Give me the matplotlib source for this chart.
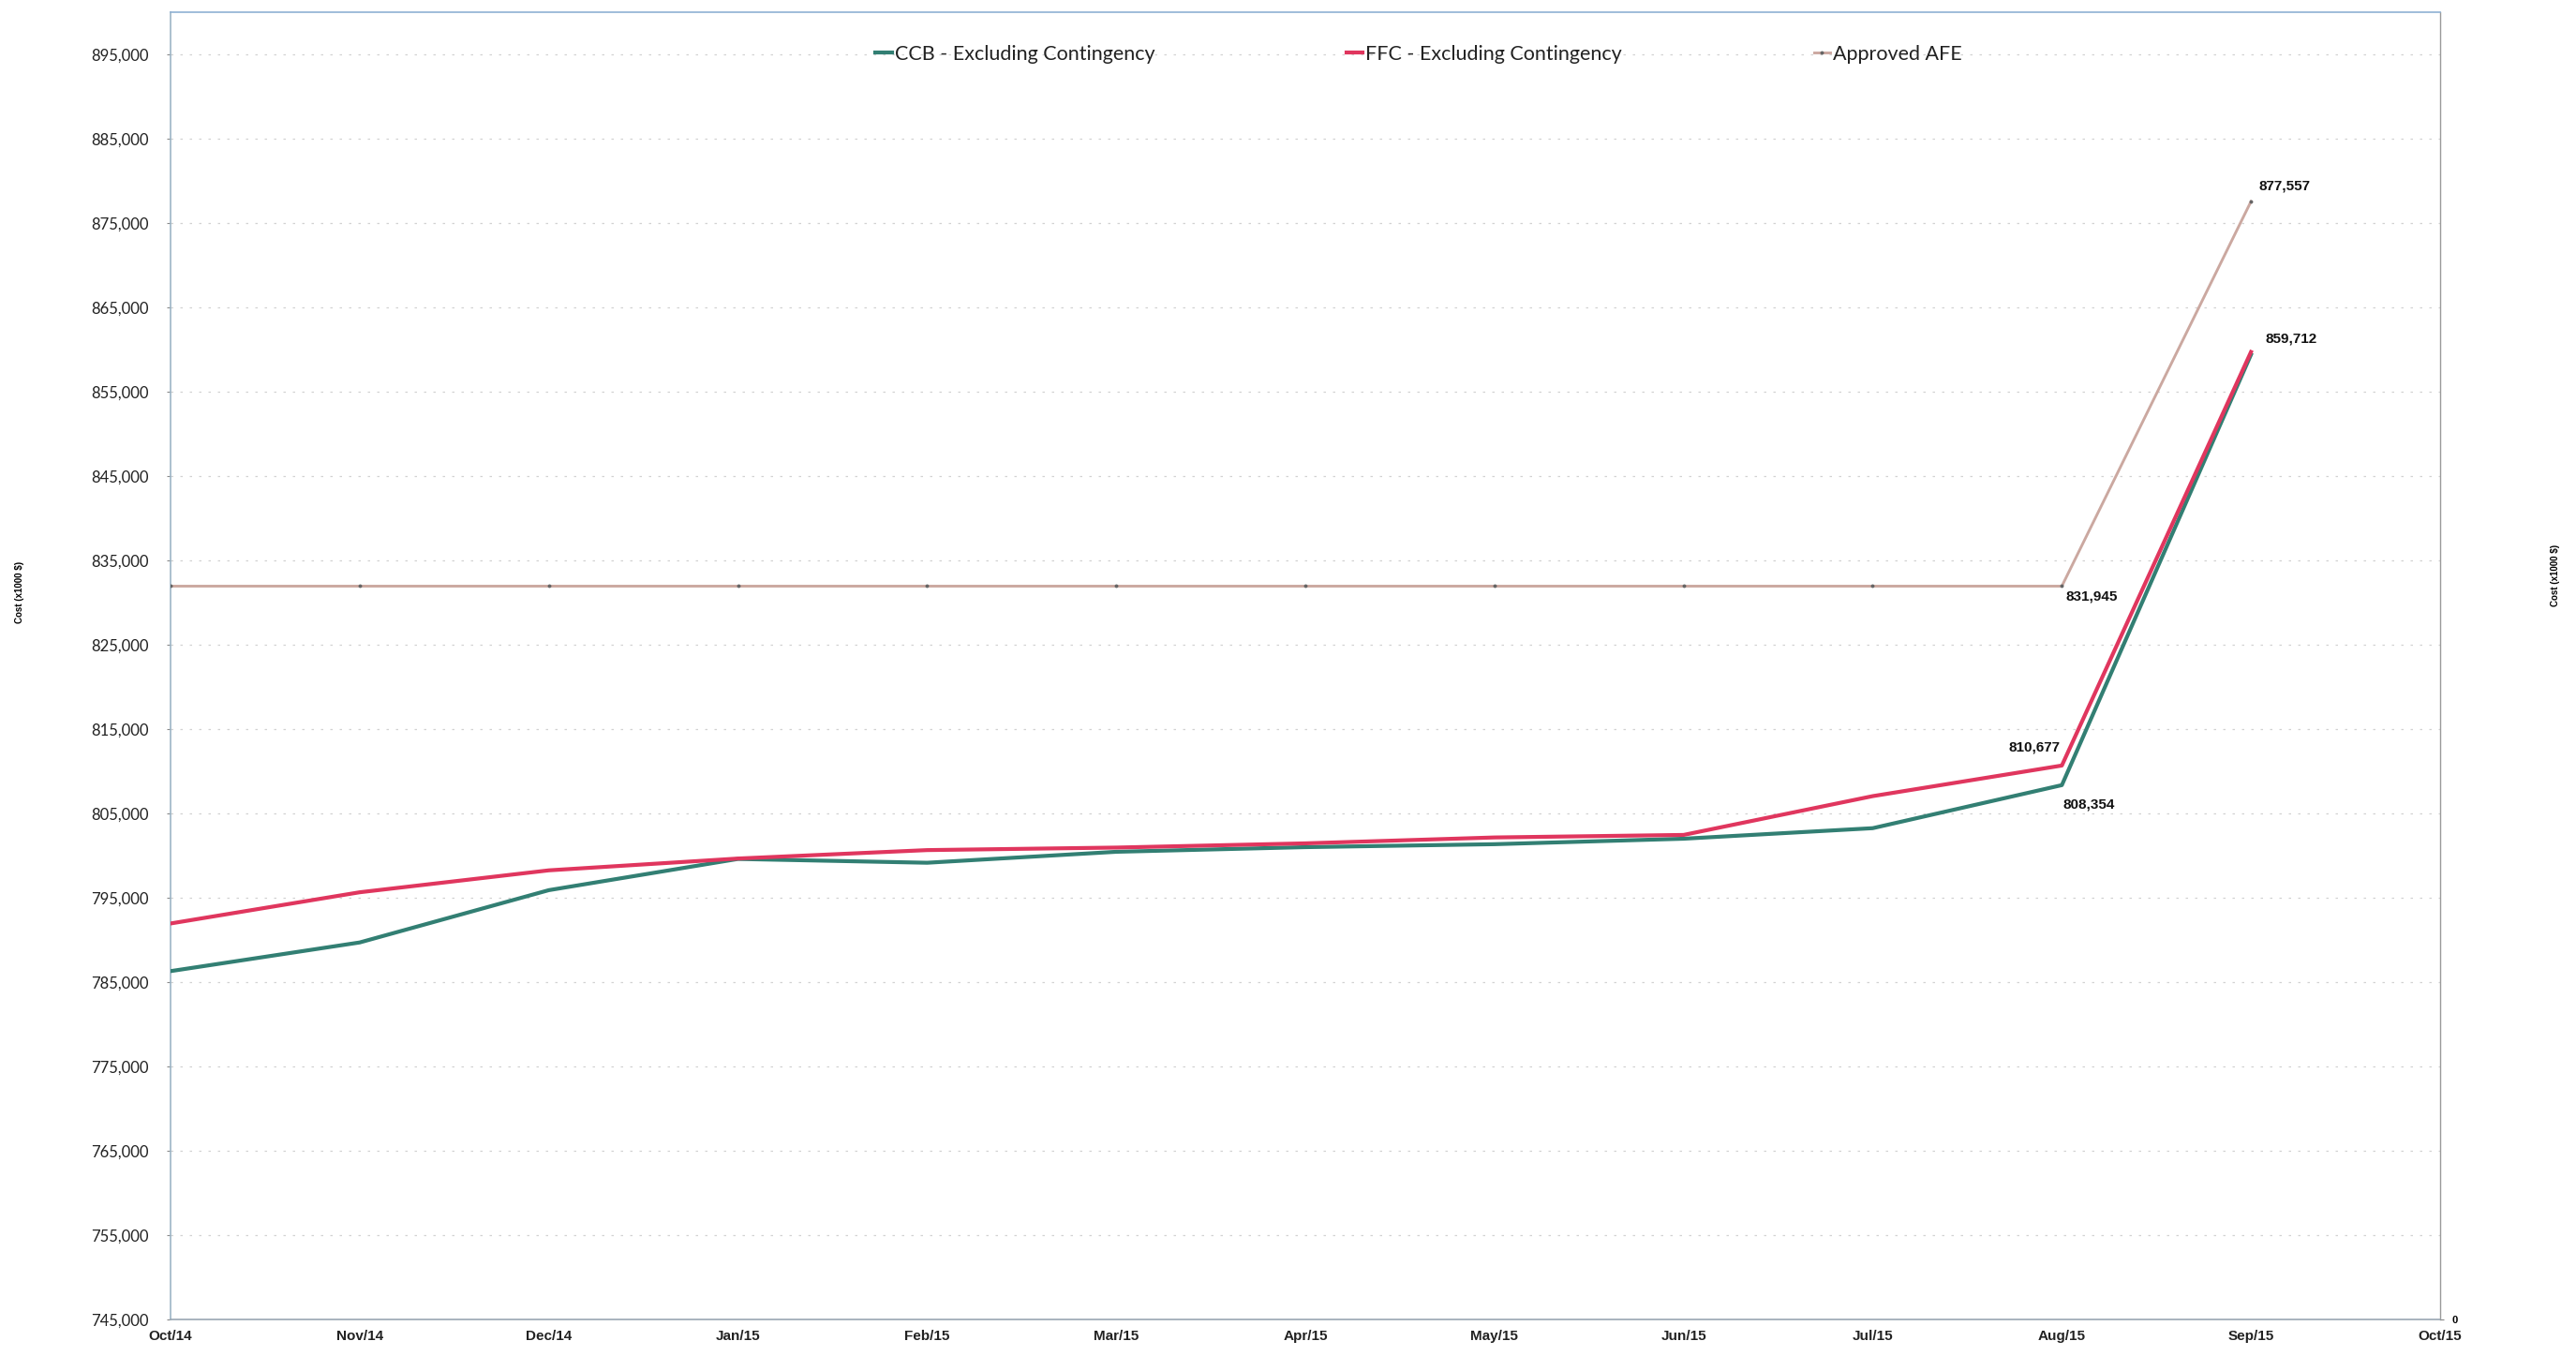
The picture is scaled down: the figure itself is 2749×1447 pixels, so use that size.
import matplotlib
matplotlib.use("Agg")
import matplotlib.pyplot as plt
from matplotlib.ticker import FixedLocator, FuncFormatter

# Monthly cost tracking (x1000 $)
months = ["Oct/14", "Nov/14", "Dec/14", "Jan/15", "Feb/15", "Mar/15", "Apr/15",
          "May/15", "Jun/15", "Jul/15", "Aug/15", "Sep/15", "Oct/15"]

ccb = [786300, 789700, 795900, 799600, 799150, 800450, 801000,
       801350, 802000, 803250, 808354, 859400]
ffc = [791950, 795650, 798250, 799650, 800650, 800950, 801450,
       802150, 802450, 807050, 810677, 859712]
afe = [831945, 831945, 831945, 831945, 831945, 831945, 831945,
       831945, 831945, 831945, 831945, 877557]

series_names = ["CCB - Excluding Contingency", "FFC - Excluding Contingency", "Approved AFE"]
y_ticks = list(range(745000, 900000, 10000))

TEAL = "#327f73"
RED = "#e0365e"
AFE_C = "#cba8a0"

W, H, DPI = 2749, 1447, 100
fig = plt.figure(figsize=(W / DPI, H / DPI), dpi=DPI)
fig.patch.set_facecolor("white")
ax = fig.add_axes([182 / W, 1 - 1408 / H, (2604 - 182) / W, (1408 - 13) / H])

x = list(range(len(ccb)))

ax.plot(x, afe, color=AFE_C, lw=2.1, label=series_names[2], zorder=3,
        marker="o", markersize=1.8, markerfacecolor="#666666", markeredgecolor="#666666")
ax.plot(x, ccb, color=TEAL, lw=3.0, label=series_names[0], zorder=4,
        solid_joinstyle="round")
ax.plot(x, ffc, color=RED, lw=3.0, label=series_names[1], zorder=5,
        solid_joinstyle="round")

ax.set_xlim(0, 12)
ax.set_ylim(745000, 900000)

ax.yaxis.set_major_locator(FixedLocator(y_ticks))
ax.yaxis.set_major_formatter(FuncFormatter(lambda v, p: f"{int(v):,}"))
ax.set_xticks(range(len(months)))
ax.set_xticklabels(months)

tick_font = ["Lato", "DejaVu Sans"]
for lab in ax.get_yticklabels():
    lab.set_family(tick_font)
    lab.set_fontsize(12)
    lab.set_color("#222222")
for lab in ax.get_xticklabels():
    lab.set_family(["Liberation Sans Narrow", "Liberation Sans", "DejaVu Sans"])
    lab.set_fontsize(11)
    lab.set_fontweight("bold")
    lab.set_color("#222222")

ax.tick_params(axis="y", length=3, width=0.8, color="#888888", pad=14)
ax.tick_params(axis="x", length=0, pad=8)

# faint gridlines
for v in y_ticks:
    ax.axhline(v, color="#d2d2d2", lw=0.9, ls=(0, (2, 6)), zorder=1)

for side, col, lw in [("left", "#9db5c6", 1.2), ("top", "#8fb1d3", 1.2),
                      ("right", "#9a9a9a", 1.0), ("bottom", "#9aa7b3", 1.2)]:
    ax.spines[side].set_color(col)
    ax.spines[side].set_linewidth(lw)

# secondary axis on the right
ax2 = ax.twinx()
ax2.set_ylim(0, 1)
ax2.set_yticks([0])
ax2.set_yticklabels(["0"], fontsize=8, fontweight="bold",
                    family=["Liberation Sans", "DejaVu Sans"])
ax2.tick_params(axis="y", length=3, color="#888888", pad=6)
for s in ax2.spines.values():
    s.set_visible(False)

# axis titles
fig.text(21 / W, 1 - 632 / H, "Cost (x1000 $)", rotation=90, ha="center", va="center",
         fontsize=7, fontweight="bold", family=["Liberation Sans Narrow", "Liberation Sans"])
fig.text(2727 / W, 1 - 614 / H, "Cost (x1000 $)", rotation=90, ha="center", va="center",
         fontsize=7, fontweight="bold", family=["Liberation Sans Narrow", "Liberation Sans"])

# value labels
lab_kw = dict(fontsize=11, fontweight="bold", color="#111111",
              family=["Liberation Sans", "DejaVu Sans"], textcoords="offset points")
ax.annotate(f"{afe[11]:,}", (11, afe[11]), xytext=(6, 12), ha="left", va="center", **lab_kw)
ax.annotate(f"{ffc[11]:,}", (11, ffc[11]), xytext=(11, 10), ha="left", va="center", **lab_kw)
ax.annotate(f"{afe[10]:,}", (10, afe[10]), xytext=(3, -8), ha="left", va="center", **lab_kw)
ax.annotate(f"{ffc[10]:,}", (10, ffc[10]), xytext=(-1, 14), ha="right", va="center", **lab_kw)
ax.annotate(f"{ccb[10]:,}", (10, ccb[10]), xytext=(1, -15), ha="left", va="center", **lab_kw)

# legend across the top
handles, labels = ax.get_legend_handles_labels()
order = [1, 2, 0]
leg = ax.legend([handles[i] for i in order], [labels[i] for i in order],
                loc="center", bbox_to_anchor=(0.55, 0.968), ncol=3, frameon=False,
                handlelength=0.8, handletextpad=0.15, columnspacing=9.5,
                prop={"family": ["Lato", "DejaVu Sans"], "size": 15.5})
for t in leg.get_texts():
    t.set_color("#222222")

fig.savefig("out.png", dpi=DPI, facecolor="white")
